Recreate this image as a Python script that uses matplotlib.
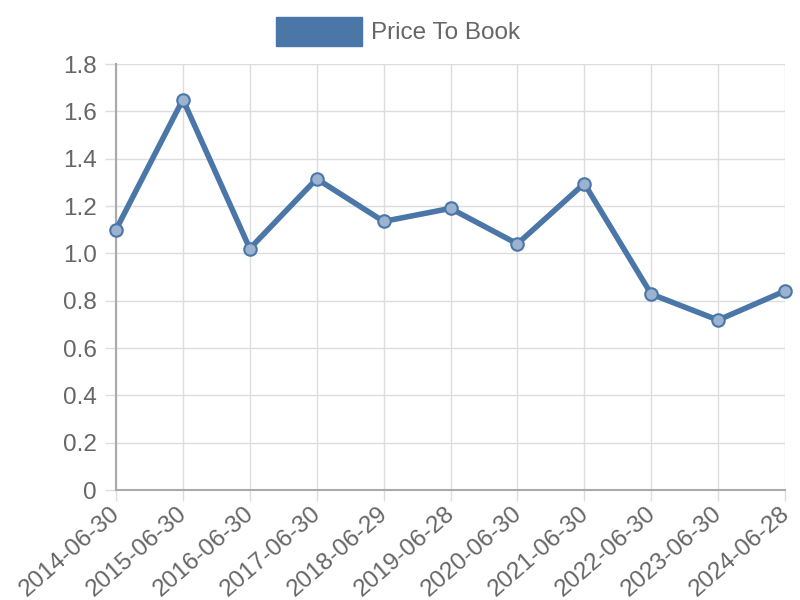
import matplotlib.pyplot as plt
from matplotlib.patches import Rectangle
from matplotlib.transforms import ScaledTranslation

plt.rcParams['font.family'] = ['Liberation Sans', 'DejaVu Sans']

dates = ['2014-06-30', '2015-06-30', '2016-06-30', '2017-06-30', '2018-06-29',
         '2019-06-28', '2020-06-30', '2021-06-30', '2022-06-30', '2023-06-30',
         '2024-06-28']
price_to_book = [1.10, 1.65, 1.02, 1.315, 1.135, 1.19, 1.04, 1.295, 0.828, 0.718, 0.841]
yticks = [0, 0.2, 0.4, 0.6, 0.8, 1.0, 1.2, 1.4, 1.6, 1.8]
ylabels = ['0', '0.2', '0.4', '0.6', '0.8', '1.0', '1.2', '1.4', '1.6', '1.8']

line_col = '#4a76a8'
txt_col = '#666666'

fig = plt.figure(figsize=(8, 6), dpi=100)
ax = fig.add_axes([0.145, 0.1833, 0.83625, 0.71])

x = list(range(len(dates)))
ax.plot(x, price_to_book, color=line_col, lw=4, zorder=3, clip_on=False)
ax.plot(x, price_to_book, 'o', ms=9, mfc='#9bb3d0', mec=line_col, mew=1.5,
        zorder=4, clip_on=False)

ax.set_xlim(0, len(dates) - 1)
ax.set_ylim(0, 1.8)
ax.set_xticks(x)
ax.set_xticklabels(dates, rotation=41, ha='right', va='top',
                   rotation_mode='anchor')
ax.set_yticks(yticks)
ax.set_yticklabels(ylabels)
ax.tick_params(axis='both', colors='#dddddd', length=8, width=1,
               labelcolor=txt_col, labelsize=17.5)
ax.tick_params(axis='x', pad=1)
ax.tick_params(axis='y', pad=6)
shift = ScaledTranslation(-6 / 100, 0, fig.dpi_scale_trans)
for lbl in ax.get_xticklabels():
    lbl.set_transform(lbl.get_transform() + shift)
ax.grid(True, color='#dddddd', lw=1)
ax.set_axisbelow(True)
for s in ['top', 'right']:
    ax.spines[s].set_visible(False)
for s in ['left', 'bottom']:
    ax.spines[s].set_color('#aaaaaa')
    ax.spines[s].set_linewidth(1.5)

# legend
fig.patches.append(Rectangle((276 / 800, 1 - 46 / 600), 86 / 800, 29 / 600,
                             transform=fig.transFigure, color=line_col))
fig.text(371 / 800, 1 - 33 / 600, 'Price To Book', color=txt_col, fontsize=17.5,
         va='center', ha='left')

fig.savefig('out.png', dpi=100)
